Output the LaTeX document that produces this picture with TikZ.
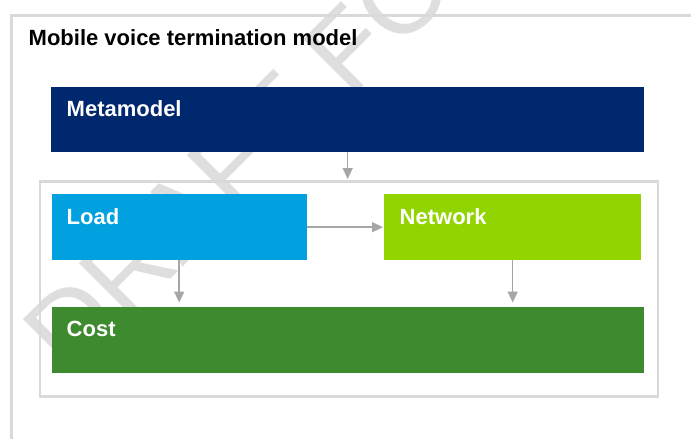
\documentclass[tikz,border=0pt]{standalone}
\usepackage{fontspec}
\setmainfont{Liberation Sans}
\usetikzlibrary{arrows.meta}
\definecolor{navy}{HTML}{00286E}
\definecolor{loadblue}{HTML}{00A1DE}
\definecolor{netgreen}{HTML}{92D400}
\definecolor{costgreen}{HTML}{3E8A2F}
\definecolor{framegrey}{HTML}{D9D9D9}
\definecolor{arrowgrey}{HTML}{A6A6A6}
\definecolor{wmgrey}{HTML}{DEDEDE}
\begin{document}
\begin{tikzpicture}[x=1pt,y=-1pt,
  box/.style={draw=none, anchor=north west, inner sep=0pt},
  lbl/.style={anchor=base west, inner sep=0pt, text=white, font=\fontsize{22}{24}\selectfont\bfseries},
  conn/.style={draw=arrowgrey, line width=1.5pt, -{Triangle[length=11pt,width=10pt]}},
  frame/.style={draw=framegrey, line width=2.5pt}
]
\useasboundingbox (0,0) rectangle (691,439);
\clip (0,0) rectangle (691,439);
\fill[white] (0,0) rectangle (691,439);
% watermark
\node[anchor=base west, inner sep=0pt, rotate=45, text=wmgrey, font=\fontsize{110}{110}\selectfont] (wm) at (70,380) {DRAFT FO};
% outer frame
\draw[framegrey, line width=3pt] (11,445) -- (11,15) -- (700,15);
% inner frame
\node[box, frame, minimum width=618pt, minimum height=215pt] (inner) at (38.8,180) {};
% title
\node[anchor=base west, inner sep=0pt, font=\fontsize{22}{24}\selectfont\bfseries] (title) at (28.5,45.5) {Mobile voice termination model};
% boxes
\node[box, fill=navy, minimum width=593pt, minimum height=65pt] (meta) at (51,87) {};
\node[box, fill=loadblue, minimum width=255pt, minimum height=66pt] (load) at (51.5,194) {};
\node[box, fill=netgreen, minimum width=257pt, minimum height=66pt] (net) at (384,194) {};
\node[box, fill=costgreen, minimum width=592.5pt, minimum height=66pt] (cost) at (51.5,306.5) {};
% labels
\node[lbl] (metaT) at (66.5,116) {Metamodel};
\node[lbl] (loadT) at (66.5,224.5) {Load};
\node[lbl] (netT) at (399.5,224.5) {Network};
\node[lbl] (costT) at (66.5,336.5) {Cost};
% connectors
\draw[conn, shorten >=1pt] (meta.south) -- (meta.south |- inner.north);
\draw[conn, shorten >=1pt] (load.east) -- (net.west);
\draw[conn, shorten >=4pt] (load.south) -- (load.south |- cost.north);
\draw[conn, shorten >=4pt] (net.south) -- (net.south |- cost.north);
\end{tikzpicture}
\end{document}
